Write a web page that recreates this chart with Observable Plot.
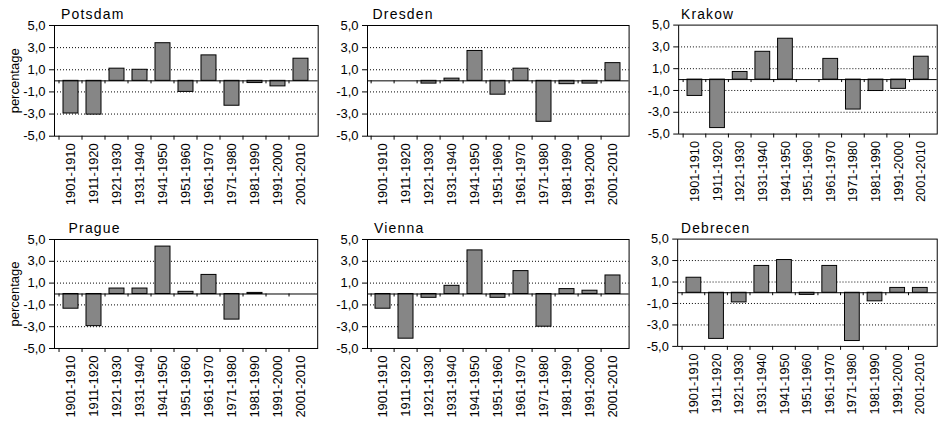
<!DOCTYPE html>
<html><head><meta charset="utf-8">
<script src="https://cdn.jsdelivr.net/npm/d3@7"></script>
<script src="https://cdn.jsdelivr.net/npm/@observablehq/plot@0.6"></script>
<style>
html,body{margin:0;padding:0;background:#fff;overflow:hidden;width:939px;height:422px}
#wrap{position:relative;width:939px;height:422px;overflow:hidden}
.panel{position:absolute}
.panel svg{overflow:visible;display:block;font-family:"Liberation Sans",Arial,sans-serif !important}
.panel svg text{font-family:"Liberation Sans",Arial,sans-serif !important;font-weight:normal}
.panel g[aria-label="text"] text{letter-spacing:1.2px}
</style></head><body><div id="wrap"></div>
<script>
const periods = ["1901-1910","1911-1920","1921-1930","1931-1940","1941-1950","1951-1960","1961-1970","1971-1980","1981-1990","1991-2000","2001-2010"];
const cities = ["Potsdam","Dresden","Krakow","Prague","Vienna","Debrecen"];
const potsdam  = [-2.95,-3.05, 1.1, 1.0, 3.4,-1.0, 2.3,-2.25,-0.2,-0.5, 2.0];
const dresden  = [null, null,-0.25, 0.2, 2.7,-1.25, 1.1,-3.7,-0.3,-0.25, 1.6];
const krakow   = [-1.5,-4.45, 0.7, 2.55, 3.75, null, 1.9,-2.75,-1.05,-0.85, 2.1];
const prague   = [-1.35,-2.95, 0.5, 0.5, 4.35, 0.2, 1.75,-2.35, 0.1, null, null];
const vienna   = [-1.35,-4.1,-0.35, 0.75, 4.0,-0.35, 2.1,-3.0, 0.45, 0.3, 1.7];
const debrecen = [1.4,-4.3,-0.9, 2.5, 3.05,-0.2, 2.5,-4.5,-0.8, 0.45, 0.45];
const seriesValues = [potsdam, dresden, krakow, prague, vienna, debrecen];
const yTicks = [-5,-3,-1,1,3,5];
const gridValues = [-3,-1,1,3];
const yLabel = "percentage";

// layout (pixel positions of each panel's plot frame)
const layout = [
  {left:54.3, right:318.0, top:0,     plotHeight:110.7, titleDx:6.5, ylab:true},
  {left:366.7,right:628.3, top:0,     plotHeight:110.7, titleDx:5,   ylab:false},
  {left:679.3,right:942.0, top:0,     plotHeight:110.7, titleDx:2.5, ylab:false},
  {left:54.3, right:317.5, top:214.3, plotHeight:109,   titleDx:14,  ylab:true},
  {left:366.7,right:628.3, top:214.3, plotHeight:109,   titleDx:6.5, ylab:false},
  {left:678.3,right:942.0, top:214.3, plotHeight:109,   titleDx:3.5, ylab:false}
];

const wrap = document.getElementById("wrap");
cities.forEach((name, k) => {
  const L = layout[k];
  const values = seriesValues[k];
  const ml = 54, mt = 25;
  const pw = L.right - L.left;
  const H = 422 - L.top;
  const step = pw / periods.length;
  const unit = L.plotHeight / 10;
  const rows = periods.map((p, i) => ({period: p, value: values[i]})).filter(d => d.value != null);
  const chart = Plot.plot({
    width: ml + pw + 2,
    height: H,
    marginLeft: ml, marginRight: 2, marginTop: mt,
    marginBottom: H - mt - L.plotHeight,
    style: {fontSize: "13px", color: "#000", background: "transparent"},
    x: {type: "band", domain: periods, paddingInner: 0.36, paddingOuter: 0.18, tickSize: 0, tickPadding: 7, tickRotate: -90, label: null},
    y: {domain: [-5, 5], ticks: yTicks, tickSize: 5, tickPadding: 4,
        tickFormat: d => d.toFixed(1).replace(".", ","),
        label: L.ylab ? yLabel : null, labelAnchor: "center", labelOffset: 45, labelArrow: false},
    marks: [
      Plot.ruleY(gridValues, {stroke: "#000", strokeDasharray: "1,2"}),
      Plot.barY(rows, {x: "period", y: "value", fill: "#868686", stroke: "#000", strokeWidth: 1}),
      Plot.ruleY([0], {stroke: "#000"}),
      Plot.ruleX(periods, {x: d => d, y1: 0, y2: -3 / unit, dx: -step / 2, stroke: "#000"}),
      Plot.ruleX(periods, {x: d => d, y1: -5, y2: -5 - 4 / unit, dx: -step / 2, stroke: "#000"}),
      Plot.frame({stroke: "#000"}),
      Plot.text([name], {frameAnchor: "top-left", textAnchor: "start", lineAnchor: "bottom", dx: L.titleDx, dy: -6, fontSize: 14})
    ]
  });
  const div = document.createElement("div");
  div.className = "panel";
  div.style.left = (L.left - ml) + "px";
  div.style.top = L.top + "px";
  div.appendChild(chart);
  wrap.appendChild(div);
});
</script></body></html>
